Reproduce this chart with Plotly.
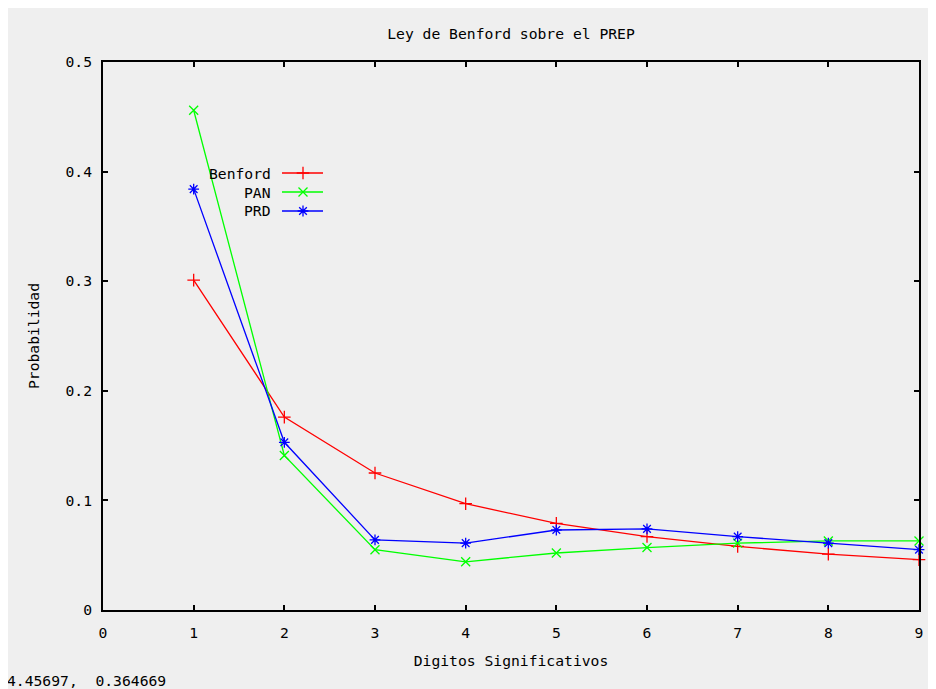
import plotly.graph_objects as go

digits = [1, 2, 3, 4, 5, 6, 7, 8, 9]
benford = [0.301, 0.176, 0.125, 0.097, 0.079, 0.067, 0.058, 0.051, 0.046]
pan = [0.456, 0.141, 0.055, 0.044, 0.052, 0.057, 0.061, 0.063, 0.063]
prd = [0.384, 0.153, 0.064, 0.061, 0.073, 0.074, 0.067, 0.061, 0.055]
series_names = ["Benford", "PAN", "PRD"]
colors = ["#ff0000", "#00ff00", "#0000ff"]
symbols = ["cross-thin-open", "x-thin-open", "asterisk-open"]
x_ticks = [0, 1, 2, 3, 4, 5, 6, 7, 8, 9]
y_ticks = [0, 0.1, 0.2, 0.3, 0.4, 0.5]
y_tick_labels = ["0", "0.1", "0.2", "0.3", "0.4", "0.5"]

FONT = "DejaVu Sans Mono"
FS = 14.7
OX, OY = 8, 8  # page body margin
W, H = 936 - OX, 689 - OY
L = 103 - OX
T = 62 - OY
R = W - (919 - OX)
B = H - (610 - OY)

fig = go.Figure()
for name, vals, col, sym in zip(series_names, [benford, pan, prd], colors, symbols):
    fig.add_trace(go.Scatter(
        x=digits, y=vals, mode="lines+markers", name=name,
        line=dict(color=col, width=1.3),
        marker=dict(symbol=sym, size=9, color=col, line=dict(color=col, width=1.3)),
        showlegend=False, cliponaxis=False,
    ))

pw = W - L - R
ph = H - T - B
def px_to_x(px):
    return (px - OX - L) / pw
def px_to_y(py):
    return 1 - (py - OY - T) / ph

# custom legend: text on the left, sample on the right
rows_y = [173, 192, 211]
for i, (name, col, sym) in enumerate(zip(series_names, colors, symbols)):
    yy = px_to_y(rows_y[i])
    fig.add_annotation(x=px_to_x(273), y=yy, xref="paper", yref="paper",
                       text=name, showarrow=False, xanchor="right", yanchor="middle",
                       font=dict(family=FONT, size=FS, color="black"))
    fig.add_shape(type="line", xref="paper", yref="paper",
                  x0=px_to_x(282), x1=px_to_x(323), y0=yy, y1=yy,
                  line=dict(color=col, width=1.3))
    fig.add_trace(go.Scatter(
        x=[px_to_x(303)], y=[yy], xaxis="x2", yaxis="y2", mode="markers",
        marker=dict(symbol=sym, size=9, color=col, line=dict(color=col, width=1.3)),
        showlegend=False, hoverinfo="skip",
    ))

axis_common = dict(
    showline=True, linecolor="black", linewidth=2, mirror="allticks",
    ticks="inside", ticklen=5, tickwidth=2, tickcolor="black",
    showgrid=False, zeroline=False,
    tickfont=dict(family=FONT, size=FS, color="black"),
)

fig.update_layout(
    width=W, height=H,
    margin=dict(l=L, r=R, t=T, b=B),
    paper_bgcolor="#efefef", plot_bgcolor="#efefef",
    title=dict(text="Ley de Benford sobre el PREP", x=(L + pw / 2) / W, xanchor="center",
               y=1 - (34 - OY) / H, yanchor="middle",
               font=dict(family=FONT, size=FS, color="black")),
    xaxis=dict(range=[0, 9], tickvals=x_ticks, ticktext=[str(t) for t in x_ticks],
               title=dict(text="Digitos Significativos", font=dict(family=FONT, size=FS, color="black"), standoff=16),
               ticklabelstandoff=8, **axis_common),
    yaxis=dict(range=[0, 0.5], tickvals=y_ticks, ticktext=y_tick_labels,
               title=dict(text="Probabilidad", font=dict(family=FONT, size=FS, color="black"), standoff=22),
               ticklabelstandoff=6, **axis_common),
    xaxis2=dict(range=[0, 1], overlaying="x", visible=False, fixedrange=True),
    yaxis2=dict(range=[0, 1], overlaying="y", visible=False, fixedrange=True),
    showlegend=False,
)

fig.add_annotation(x=px_to_x(5), y=px_to_y(680), xref="paper", yref="paper",
                   xanchor="left", yanchor="middle",
                   text="4.45697,  0.364669", showarrow=False,
                   font=dict(family=FONT, size=FS, color="black"))

fig.write_html("out.html")
